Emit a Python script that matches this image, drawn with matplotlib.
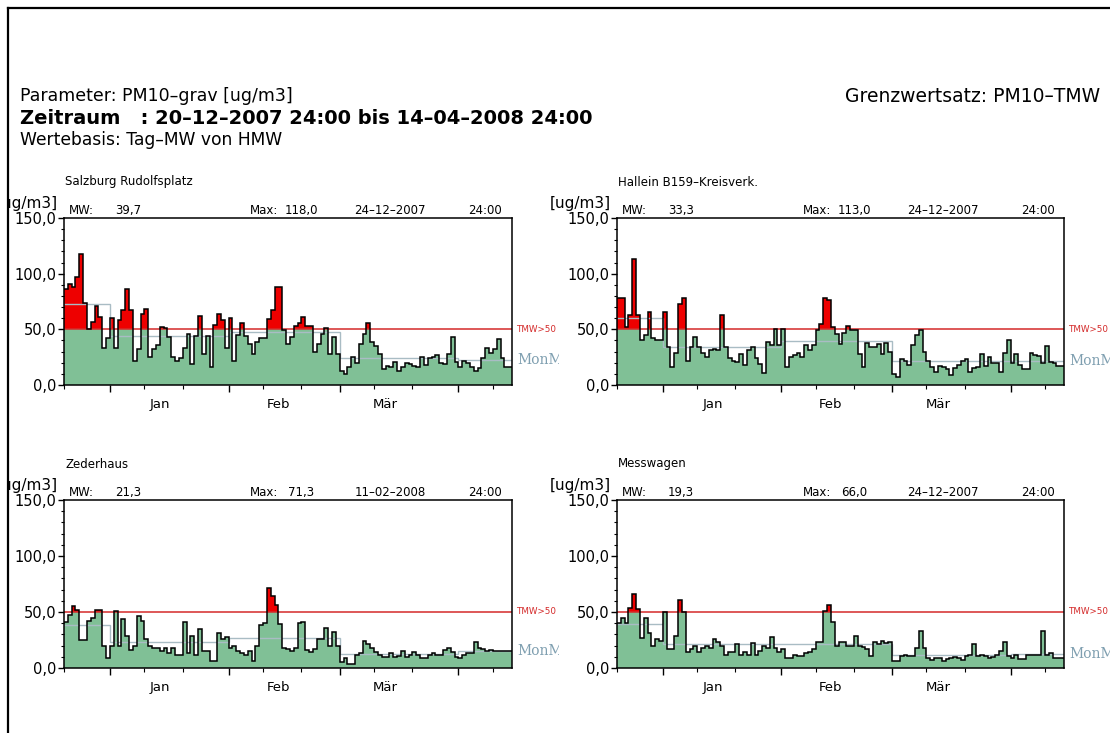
import numpy as np
import pandas as pd
import matplotlib
matplotlib.use("Agg")
import matplotlib.pyplot as plt
import matplotlib.dates as mdates
import matplotlib.transforms as mtransforms
from matplotlib.ticker import MultipleLocator, FuncFormatter, NullFormatter
from matplotlib.lines import Line2D

W, H = 1110, 733

# PM10 Tagesmittel [ug/m3], 20.12.2007 .. 14.04.2008
days = pd.date_range("2007-12-20", periods=117, freq="D")

salzburg = [86, 91, 88, 97, 118, 74, 50, 57, 71, 61, 33, 42,
            60, 33, 58, 67, 86, 67, 22, 32, 64, 68, 25, 32, 36, 52, 51, 43, 25, 22, 24, 33,
            46, 19, 44, 62, 28, 44, 16, 54, 64, 58, 33,
            60, 22, 45, 56, 44, 37, 28, 39, 42, 42, 59, 67, 88, 88, 49, 37, 43, 53, 56, 61,
            53, 53, 30, 37, 46, 51, 28, 43, 28,
            13, 10, 16, 25, 20, 37, 46, 56, 39, 35, 28, 14, 17, 16, 21, 13, 16, 20, 19, 17,
            16, 25, 18, 24, 25, 27, 20, 19, 28, 43, 21,
            16, 22, 20, 16, 13, 15, 24, 33, 29, 32, 41, 24, 16, 16]
hallein = [78, 78, 52, 63, 113, 63, 40, 45, 66, 42, 40, 40,
           66, 34, 16, 29, 73, 78, 22, 34, 43, 34, 29, 25, 31, 32, 31, 63, 34, 24, 22, 21,
           28, 18, 31, 34, 24, 19, 11, 39, 36, 50, 36,
           50, 16, 25, 27, 29, 25, 36, 31, 36, 49, 55, 78, 76, 52, 46, 37, 47, 53, 49, 49,
           28, 16, 38, 34, 34, 37, 28, 38, 30,
           10, 7, 23, 22, 18, 36, 45, 49, 30, 22, 16, 12, 17, 16, 14, 9, 15, 18, 22, 23,
           12, 15, 16, 28, 17, 25, 20, 20, 12, 29, 40,
           20, 28, 18, 14, 14, 29, 27, 26, 20, 35, 21, 20, 17, 17]
zederhaus = [41, 47, 55, 52, 25, 25, 42, 45, 52, 52, 20, 9,
             20, 51, 20, 44, 29, 16, 20, 46, 42, 26, 20, 18, 18, 15, 18, 13, 18, 12, 12, 41,
             13, 29, 12, 35, 15, 15, 6, 6, 31, 26, 28,
             18, 20, 15, 13, 12, 15, 6, 20, 38, 40, 71.3, 64, 56, 39, 18, 17, 15, 18, 40, 41,
             16, 14, 17, 26, 26, 36, 20, 32, 20,
             5, 9, 4, 4, 12, 13, 24, 21, 18, 14, 12, 10, 10, 13, 10, 11, 15, 10, 12, 14,
             12, 9, 9, 12, 13, 12, 12, 16, 18, 14, 10,
             9, 12, 13, 13, 23, 18, 17, 15, 16, 15, 15, 15, 15, 15]
messwagen = [40, 45, 40, 54, 66, 53, 27, 45, 31, 20, 26, 24,
             50, 17, 17, 29, 61, 50, 14, 17, 20, 14, 18, 20, 18, 26, 23, 20, 12, 14, 14, 21,
             12, 14, 12, 22, 12, 15, 20, 18, 28, 18, 14,
             17, 9, 9, 12, 11, 11, 13, 14, 17, 23, 23, 51, 56, 41, 20, 23, 23, 20, 20, 29,
             20, 19, 17, 11, 23, 21, 24, 22, 23,
             6, 6, 11, 12, 11, 11, 18, 33, 18, 9, 7, 9, 9, 6, 8, 9, 10, 9, 7, 11,
             12, 21, 11, 12, 11, 9, 10, 12, 15, 23, 11,
             9, 12, 8, 8, 12, 12, 12, 12, 33, 12, 13, 9, 9, 9]

series = [salzburg, hallein, zederhaus, messwagen]
stations = ["Salzburg Rudolfsplatz", "Hallein B159–Kreisverk.", "Zederhaus", "Messwagen"]
mw_text = ["39,7", "33,3", "21,3", "19,3"]
month_names = ["Jan", "Feb", "Mär"]
month_name_dates = ["2008-01-14", "2008-02-14", "2008-03-13"]
limit = 50

green = "#80c096"
red = "#ee0000"
limcol = "#d42a2a"
monm_line = "#a9bcc4"
monm_text = "#7f9fb0"

# Achsen in Pixeln: links, oben, rechts, unten
boxes = [(64, 218, 512, 385), (617, 218, 1064, 385),
         (64, 500, 512, 668), (617, 500, 1064, 668)]

plt.rcParams["font.family"] = "DejaVu Sans"
fig = plt.figure(figsize=(W / 100, H / 100), dpi=100)


def ftext(x, y, s, **kw):
    return fig.text(x / W, 1 - y / H, s, **kw)


def clip_x(t, x0, x1):
    box = mtransforms.Bbox([[x0 / W, 0], [x1 / W, 1]])
    t.set_clip_on(True)
    t.set_clip_box(mtransforms.TransformedBbox(box, fig.transFigure))


def comma(v):
    return f"{v:.1f}".replace(".", ",")


# Rahmen
fig.add_artist(Line2D([8 / W, 8 / W], [0, 1 - 8 / H], color="black", lw=1.6))
fig.add_artist(Line2D([8 / W, 1], [1 - 8 / H, 1 - 8 / H], color="black", lw=1.6))

ftext(20, 96, "Parameter: PM10–grav [ug/m3]", fontsize=12.5, va="center")
ftext(20, 118, "Zeitraum   : 20–12–2007 24:00 bis 14–04–2008 24:00",
      fontsize=14, fontweight="bold", va="center")
ftext(20, 140, "Wertebasis: Tag–MW von HMW", fontsize=12.3, va="center")
ftext(1100, 96, "Grenzwertsatz: PM10–TMW", fontsize=13.5, va="center", ha="right")

edges = mdates.date2num(pd.date_range(days[0], periods=len(days) + 1, freq="D"))

for vals, name, mw, (l, t, r, b) in zip(series, stations, mw_text, boxes):
    ax = fig.add_axes([l / W, 1 - b / H, (r - l) / W, (b - t) / H])
    ax.xaxis_date()
    s = pd.Series(vals, index=days, dtype=float)
    v = s.to_numpy()
    monthly = s.groupby(s.index.to_period("M")).transform("mean").to_numpy()

    ax.stairs(np.minimum(v, limit), edges, baseline=0, fill=True, color=green, zorder=1)
    ax.stairs(np.maximum(v, limit), edges, baseline=limit, fill=True, color=red, zorder=1)
    ax.stairs(monthly, edges, baseline=None, color=monm_line, lw=1.0, zorder=2)
    ax.axhline(limit, color=limcol, lw=1.1, zorder=2.5)
    ax.stairs(v, edges, baseline=None, color="black", lw=1.1, zorder=3)

    ax.set_xlim(edges[0], edges[-1])
    ax.set_ylim(0, 150)
    for sp in ax.spines.values():
        sp.set_linewidth(1.1)

    ax.xaxis.set_major_locator(mdates.MonthLocator())
    ax.xaxis.set_minor_locator(mdates.DayLocator(bymonthday=[10, 20]))
    ax.xaxis.set_major_formatter(NullFormatter())
    ax.xaxis.set_minor_formatter(NullFormatter())
    ax.yaxis.set_major_locator(MultipleLocator(50))
    ax.yaxis.set_minor_locator(MultipleLocator(10))
    ax.yaxis.set_major_formatter(FuncFormatter(lambda y, p: comma(y)))
    ax.tick_params(axis="x", which="major", length=5, width=1)
    ax.tick_params(axis="x", which="minor", length=3, width=0.8)
    ax.tick_params(axis="y", which="major", length=4, width=1, labelsize=10.5, pad=1.5)
    ax.tick_params(axis="y", which="minor", length=2.5, width=0.8)

    for lab, d in zip(month_names, month_name_dates):
        ax.annotate(lab, xy=(mdates.date2num(pd.Timestamp(d)), 0),
                    xycoords=("data", "axes fraction"), xytext=(0, -14),
                    textcoords="offset points", ha="center", va="center",
                    fontsize=9.5, annotation_clip=False)

    # Kopfzeile der Station
    imax = s.idxmax()
    day_txt = "–".join([f"{imax.day:02d}", f"{imax.month:02d}", f"{imax.year}"])
    ftext(l + 1, t - 36, name, fontsize=8.5, va="center")
    for dx, txt in [(17, "MW:"), (64, mw), (200, "Max:"), (237, comma(s.max())),
                    (326, day_txt), (421, "24:00")]:
        ftext(l + dx, t - 4, txt, fontsize=8.5, ha="center", va="baseline")

    unit = ftext(l - 6, t - 10, "[ug/m3]", fontsize=11, ha="right", va="baseline")
    clip_x(unit, 9 if l < 300 else 537, W)

    trans = mtransforms.blended_transform_factory(ax.transAxes, ax.transData)
    t1 = fig.text(1, limit, "TMW>50", color=limcol, fontsize=6.3, va="center",
                  transform=mtransforms.offset_copy(trans, fig=fig, x=4, y=0, units="dots"))
    t2 = fig.text(1, monthly[-1], "MonM", color=monm_text, fontsize=10, va="center",
                  family="DejaVu Serif",
                  transform=mtransforms.offset_copy(trans, fig=fig, x=5, y=0, units="dots"))
    if l < 300:
        clip_x(t1, 0, 559)
        clip_x(t2, 0, 559)

fig.savefig("out.png", dpi=100, facecolor="white")
